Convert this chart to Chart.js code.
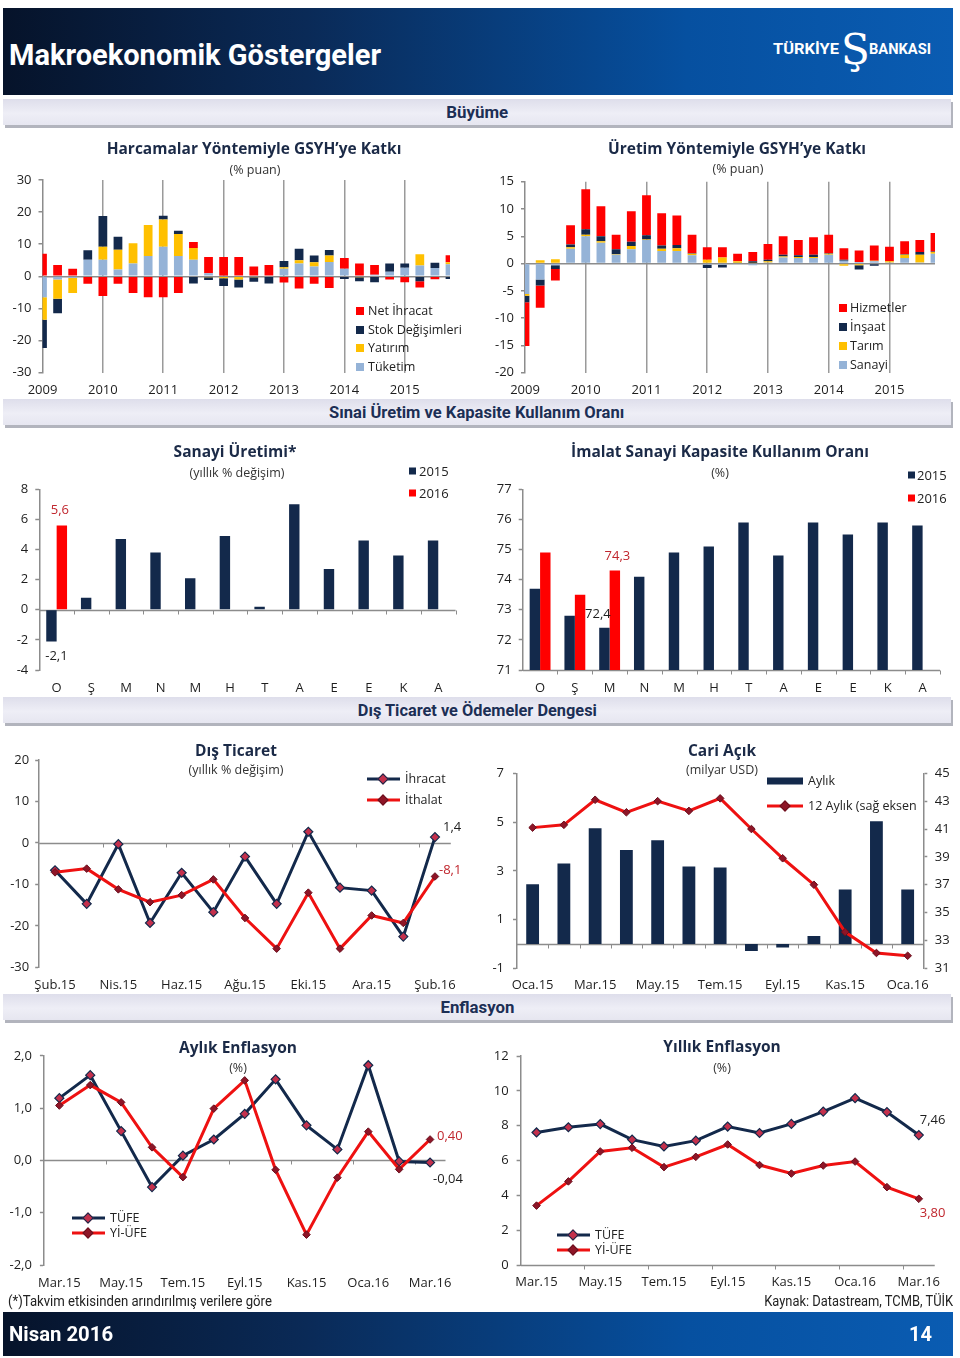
<!DOCTYPE html>
<html lang="tr">
<head>
<meta charset="utf-8">
<title>Makroekonomik Göstergeler</title>
<script src="https://cdn.jsdelivr.net/npm/chart.js@4.4.1/dist/chart.umd.min.js"></script>
<style>
html,body{margin:0;padding:0;background:#fff}
body{width:960px;height:1358px;position:relative;overflow:hidden;font-family:'Open Sans','Noto Sans',sans-serif;color:#1e1e1e}
canvas{position:absolute}
.banner{position:absolute;left:3px;width:950px;background:linear-gradient(90deg,#06132a 0%,#0a2a57 32%,#0650a0 72%,#0a5cb2 100%);color:#fff;font-family:'Roboto','Liberation Sans',sans-serif;font-weight:bold}
.sec{position:absolute;left:3px;width:948px;height:26px;line-height:26px;background:linear-gradient(#dedeeb,#eeeef6 55%,#e6e6f0);box-shadow:2px 3px 0 #b2b4bd;text-align:center;font-family:'Roboto','Liberation Sans',sans-serif;font-weight:bold;font-size:17px;color:#1c2f55}
.sec span{display:inline-block;transform-origin:center center}
.t{position:absolute;transform:translate(-50%,-50%);white-space:nowrap;font-weight:bold;font-size:15.5px;color:#1b2a47}
.s{position:absolute;transform:translate(-50%,-50%);white-space:nowrap;font-size:12.5px;color:#333}
.lg{position:absolute;transform:translateY(-50%);white-space:nowrap;font-size:12.5px;color:#222;line-height:1}
.bx{position:absolute;width:8px;height:8px;transform:translateY(-50%)}
.ln{position:absolute;height:3px;transform:translateY(-50%)}
.dm{position:absolute;width:6px;height:6px;transform:translate(-50%,-50%) rotate(45deg)}
.note{position:absolute;top:1301px;font-family:'Roboto','Liberation Sans',sans-serif;font-size:14px;color:#222;white-space:nowrap;line-height:1}
.fit{white-space:nowrap;line-height:1}
</style>
</head>
<body>
<!-- header -->
<div class="banner" style="top:8px;height:87px">
  <div class="fit" data-w="372" data-t="translateY(-50%)" style="position:absolute;left:6px;top:47px;font-size:29px;transform-origin:left center">Makroekonomik Göstergeler</div>
  <div class="fit" data-w="66" data-t="translateY(-50%)" style="position:absolute;left:770px;top:41px;font-size:14px;transform-origin:left center">TÜRKİYE</div>
  <div style="position:absolute;left:838px;top:41px;transform:translateY(-50%);font-family:'DejaVu Serif',serif;font-size:42px;font-weight:normal;white-space:nowrap">Ş</div>
  <div class="fit" data-w="62" data-t="translateY(-50%)" style="position:absolute;left:866px;top:41px;font-size:14px;transform-origin:left center">BANKASI</div>
</div>
<div class="sec" style="top:99px"><span class="fit" data-w="62" style="line-height:26px">Büyüme</span></div>
<div class="sec" style="top:399px"><span class="fit" data-w="295" style="line-height:26px">Sınai Üretim ve Kapasite Kullanım Oranı</span></div>
<div class="sec" style="top:697px"><span class="fit" data-w="239" style="line-height:26px">Dış Ticaret ve Ödemeler Dengesi</span></div>
<div class="sec" style="top:994px"><span class="fit" data-w="74" style="line-height:26px">Enflasyon</span></div>

<canvas id="c1" width="470" height="265" style="left:0;top:140px"></canvas>
<canvas id="c2" width="470" height="265" style="left:480px;top:140px"></canvas>
<canvas id="c3" width="470" height="260" style="left:0;top:440px"></canvas>
<canvas id="c4" width="470" height="260" style="left:480px;top:440px"></canvas>
<canvas id="c5" width="470" height="260" style="left:0;top:740px"></canvas>
<canvas id="c6" width="470" height="260" style="left:480px;top:740px"></canvas>
<canvas id="c7" width="470" height="260" style="left:0;top:1040px"></canvas>
<canvas id="c8" width="470" height="260" style="left:480px;top:1040px"></canvas>

<!-- titles -->
<div class="t" style="left:254px;top:148px">Harcamalar Yöntemiyle GSYH’ye Katkı</div>
<div class="s" style="left:255px;top:169px">(% puan)</div>
<div class="t" style="left:737px;top:148px">Üretim Yöntemiyle GSYH’ye Katkı</div>
<div class="s" style="left:738px;top:168px">(% puan)</div>
<div class="t" style="left:235px;top:451px">Sanayi Üretimi*</div>
<div class="s" style="left:237px;top:472px">(yıllık  % değişim)</div>
<div class="t" style="left:720px;top:451px">İmalat Sanayi Kapasite Kullanım  Oranı</div>
<div class="s" style="left:720px;top:472px">(%)</div>
<div class="t" style="left:236px;top:750px">Dış Ticaret</div>
<div class="s" style="left:236px;top:769px">(yıllık  % değişim)</div>
<div class="t" style="left:722px;top:750px">Cari Açık</div>
<div class="s" style="left:722px;top:769px">(milyar  USD)</div>
<div class="t" style="left:238px;top:1047px">Aylık Enflasyon</div>
<div class="s" style="left:238px;top:1067px">(%)</div>
<div class="t" style="left:722px;top:1046px">Yıllık Enflasyon</div>
<div class="s" style="left:722px;top:1067px">(%)</div>

<!-- legends -->
<div class="bx" style="left:356px;top:311px;background:#ff0000"></div><div class="lg" style="left:368px;top:311px">Net İhracat</div>
<div class="bx" style="left:356px;top:330px;background:#13294b"></div><div class="lg" style="left:368px;top:330px">Stok Değişimleri</div>
<div class="bx" style="left:356px;top:348px;background:#ffc000"></div><div class="lg" style="left:368px;top:348px">Yatırım</div>
<div class="bx" style="left:356px;top:367px;background:#95b3d7"></div><div class="lg" style="left:368px;top:367px">Tüketim</div>

<div class="bx" style="left:839px;top:308px;background:#ff0000"></div><div class="lg" style="left:850px;top:308px">Hizmetler</div>
<div class="bx" style="left:839px;top:327px;background:#13294b"></div><div class="lg" style="left:850px;top:327px">İnşaat</div>
<div class="bx" style="left:839px;top:346px;background:#ffc000"></div><div class="lg" style="left:850px;top:346px">Tarım</div>
<div class="bx" style="left:839px;top:365px;background:#95b3d7"></div><div class="lg" style="left:850px;top:365px">Sanayi</div>

<div class="bx" style="left:409px;top:471px;width:7px;height:7px;background:#13294b"></div><div class="lg" style="left:419px;top:471px;font-size:13px">2015</div>
<div class="bx" style="left:409px;top:493px;width:7px;height:7px;background:#ff0000"></div><div class="lg" style="left:419px;top:493px;font-size:13px">2016</div>
<div class="bx" style="left:908px;top:475px;width:7px;height:7px;background:#13294b"></div><div class="lg" style="left:917px;top:475px;font-size:13px">2015</div>
<div class="bx" style="left:908px;top:498px;width:7px;height:7px;background:#ff0000"></div><div class="lg" style="left:917px;top:498px;font-size:13px">2016</div>

<div class="ln" style="left:367px;top:779px;width:33px;background:#13294b"></div><div class="dm" style="left:383px;top:779px;background:#c4304c;border:1px solid #13294b"></div><div class="lg" style="left:405px;top:779px">İhracat</div>
<div class="ln" style="left:367px;top:800px;width:33px;background:#ee1111"></div><div class="dm" style="left:383px;top:800px;background:#8e1527;border:1px solid #6a0f1d"></div><div class="lg" style="left:405px;top:800px">İthalat</div>

<div class="ln" style="left:767px;top:781px;width:36px;height:7px;background:#13294b"></div><div class="lg" style="left:808px;top:781px">Aylık</div>
<div class="ln" style="left:767px;top:806px;width:36px;background:#ee1111"></div><div class="dm" style="left:785px;top:806px;background:#8e1527;border:1px solid #6a0f1d"></div><div class="lg" style="left:808px;top:806px">12 Aylık (sağ eksen</div>

<div class="ln" style="left:72px;top:1218px;width:33px;background:#13294b"></div><div class="dm" style="left:88px;top:1218px;background:#c4304c;border:1px solid #13294b"></div><div class="lg" style="left:110px;top:1218px">TÜFE</div>
<div class="ln" style="left:72px;top:1233px;width:33px;background:#ee1111"></div><div class="dm" style="left:88px;top:1233px;background:#8e1527;border:1px solid #6a0f1d"></div><div class="lg" style="left:110px;top:1233px">Yİ-ÜFE</div>

<div class="ln" style="left:557px;top:1235px;width:33px;background:#13294b"></div><div class="dm" style="left:573px;top:1235px;background:#c4304c;border:1px solid #13294b"></div><div class="lg" style="left:595px;top:1235px">TÜFE</div>
<div class="ln" style="left:557px;top:1250px;width:33px;background:#ee1111"></div><div class="dm" style="left:573px;top:1250px;background:#8e1527;border:1px solid #6a0f1d"></div><div class="lg" style="left:595px;top:1250px">Yİ-ÜFE</div>

<div class="note fit" data-w="264" data-t="translateY(-50%)" style="left:8px;transform-origin:left center;font-weight:normal">(*)Takvim etkisinden arındırılmış verilere göre</div>
<div class="note fit" data-w="189" data-t="translateY(-50%)" style="right:7px;transform-origin:right center">Kaynak: Datastream, TCMB, TÜİK</div>

<div class="banner" style="top:1312px;height:44px">
  <div class="fit" data-w="104" data-t="translateY(-50%)" style="position:absolute;left:6px;top:22px;font-size:21px;transform-origin:left center">Nisan 2016</div>
  <div class="fit" data-w="23" data-t="translateY(-50%)" style="position:absolute;right:21px;top:22px;font-size:21px;transform-origin:right center">14</div>
</div>

<script>
// fit condensed texts to the widths seen in the reference
document.querySelectorAll('.fit').forEach(el => {
  const base = el.dataset.t || '';
  el.style.transform = base;
  const w = el.getBoundingClientRect().width;
  const k = parseFloat(el.dataset.w) / w;
  el.style.transform = base + ' scaleX(' + k.toFixed(3) + ')';
});

// ================= DATA =================
const ceyrekler = ['2009-Ç1','2009-Ç2','2009-Ç3','2009-Ç4','2010-Ç1','2010-Ç2','2010-Ç3','2010-Ç4',
  '2011-Ç1','2011-Ç2','2011-Ç3','2011-Ç4','2012-Ç1','2012-Ç2','2012-Ç3','2012-Ç4',
  '2013-Ç1','2013-Ç2','2013-Ç3','2013-Ç4','2014-Ç1','2014-Ç2','2014-Ç3','2014-Ç4',
  '2015-Ç1','2015-Ç2','2015-Ç3','2015-Ç4'];
const yilEtiketleri = ['2009','2010','2011','2012','2013','2014','2015'];

// Harcamalar yöntemiyle GSYH'ye katkı (% puan)
const harcamaTuketim    = [-6.5,-1.0,-0.5,5.2, 5.2,2.1,4.0,6.3, 9.2,6.3,5.2,1.0, 0.2,0.0,0.3,0.0, 2.4,4.0,3.1,4.5, 2.4,0.3,0.5,1.4, 2.7,3.4,2.6,3.8];
const harcamaYatirim    = [-7.0,-6.0,-4.7,0.0, 4.0,6.2,6.3,9.7, 8.5,6.9,3.6,-0.3, -0.6,-1.0,-0.3,0.0, 0.4,1.0,1.3,2.0, 0.0,-0.3,0.0,0.0, 0.0,3.5,0.0,0.6];
const harcamaStok       = [-8.8,-4.5,0.0,2.9, 9.6,4.0,0.0,0.0, 1.2,1.0,-2.2,-0.8, -2.4,-2.5,-1.4,-2.2, 2.0,3.6,2.1,1.7, -0.8,-1.2,-1.8,2.6, 1.3,-1.5,1.6,-0.8];
const harcamaNetIhracat = [7.0,3.5,2.4,-2.3, -6.1,-2.3,-5.2,-6.5, -6.5,-5.2,1.9,5.0, 5.8,6.0,2.8,3.5, -1.9,-3.8,-2.3,-3.6, 3.3,3.7,3.0,-1.0, -1.8,-2.0,-0.9,2.2];

// Üretim yöntemiyle GSYH'ye katkı (% puan)
const uretimSanayi    = [-5.6,-2.9,-0.3,2.7, 5.0,3.8,1.6,2.6, 4.3,2.3,2.3,1.5, -0.2,-0.2,0.1,-0.3, 0.2,1.1,1.0,1.0, 1.6,0.5,0.3,0.4, 0.2,1.0,0.2,1.8];
const uretimTarim     = [-0.3,0.6,0.8,0.3, 0.3,0.3,0.1,0.6, 0.1,0.4,0.5,0.3, 0.7,1.1,0.3,0.1, 0.2,0.2,0.2,0.2, 0.2,-0.4,-0.3,0.1, 0.2,0.6,1.4,0.3];
const uretimInsaat    = [-1.2,-1.1,-0.7,0.5, 1.0,0.9,0.9,0.8, 0.8,0.6,0.6,0.1, -0.6,-0.5,0.0,0.3, 0.3,0.3,0.3,0.4, 0.1,0.2,-0.8,-0.4, 0.0,0.1,0.5,0.1];
const uretimHizmetler = [-8.0,-4.1,-2.1,3.5, 7.3,5.5,2.7,5.6, 7.3,5.9,5.4,3.4, 2.3,1.9,1.4,1.7, 2.9,3.4,2.8,3.2, 3.4,2.1,2.1,2.8, 2.7,2.4,2.2,3.4];

// Sanayi üretimi ve kapasite kullanımı
const ayHarfleri = ['O','Ş','M','N','M','H','T','A','E','E','K','A'];
const sanayi2015 = [-2.1,0.8,4.7,3.8,2.1,4.9,0.2,7.0,2.7,4.6,3.6,4.6];
const sanayi2016 = [5.6,null,null,null,null,null,null,null,null,null,null,null];
const kapasite2015 = [73.7,72.8,72.4,74.1,74.9,75.1,75.9,74.8,75.9,75.5,75.9,75.8];
const kapasite2016 = [74.9,73.5,74.3,null,null,null,null,null,null,null,null,null];

// Dış ticaret (yıllık % değişim)
const disTicaretAylar = ['Şub.15','Mar.15','Nis.15','May.15','Haz.15','Tem.15','Ağu.15','Eyl.15','Eki.15','Kas.15','Ara.15','Oca.16','Şub.16'];
const ihracat = [-6.6,-14.7,-0.3,-19.3,-7.2,-16.7,-3.3,-14.7,2.7,-10.8,-11.5,-22.6,1.4];
const ithalat = [-7.1,-6.2,-11.2,-14.3,-12.6,-8.8,-18.1,-25.5,-12.0,-25.5,-17.5,-19.3,-8.1];

// Cari açık (milyar USD)
const cariAylar = ['Oca.15','Şub.15','Mar.15','Nis.15','May.15','Haz.15','Tem.15','Ağu.15','Eyl.15','Eki.15','Kas.15','Ara.15','Oca.16'];
const cariAylik = [2.45,3.3,4.75,3.85,4.25,3.18,3.14,-0.29,-0.15,0.33,2.23,5.03,2.23];
const cari12Aylik = [41.1,41.3,43.1,42.2,43.0,42.3,43.2,41.0,38.9,37.0,33.6,32.1,31.9];

// Enflasyon
const enfAylar = ['Mar.15','Nis.15','May.15','Haz.15','Tem.15','Ağu.15','Eyl.15','Eki.15','Kas.15','Ara.15','Oca.16','Şub.16','Mar.16'];
const aylikTufe  = [1.19,1.63,0.56,-0.51,0.09,0.40,0.89,1.55,0.67,0.21,1.82,-0.02,-0.04];
const aylikYiUfe = [1.05,1.44,1.11,0.25,-0.32,0.99,1.53,-0.18,-1.42,-0.33,0.55,-0.17,0.40];
const yillikTufe  = [7.61,7.91,8.09,7.20,6.81,7.14,7.95,7.58,8.10,8.81,9.58,8.78,7.46];
const yillikYiUfe = [3.41,4.80,6.52,6.73,5.62,6.21,6.92,5.74,5.25,5.71,5.94,4.47,3.80];

// ================= STYLE =================
const C = {red:'#ff0000', navy:'#13294b', yellow:'#ffc000', lblue:'#95b3d7', grid:'#8c8c8c',
           crimson:'#c4304c', dred:'#8e1527', dredB:'#6a0f1d', line:'#ee1111', txt:'#1e1e1e'};
const fmt = (v, d) => v.toFixed(d).replace('.', ',');

Chart.defaults.font.family = "'Open Sans','Noto Sans','DejaVu Sans',sans-serif";
Chart.defaults.font.size = 13;
Chart.defaults.color = C.txt;
Chart.defaults.animation = false;
Chart.defaults.plugins.legend.display = false;
Chart.defaults.plugins.tooltip.enabled = false;

// decorations: reference lines with boundary ticks, and value labels
const decor = {};
Chart.register({
  id: 'decor',
  beforeDatasetsDraw(chart) {
    const d = decor[chart.canvas.id]; if (!d || !d.lines) return;
    const ctx = chart.ctx, a = chart.chartArea, xs = chart.scales.x;
    d.lines.forEach(l => {
      const py = Math.round(chart.scales[l.scale || 'y'].getPixelForValue(l.value)) + 0.5;
      ctx.save();
      ctx.strokeStyle = C.grid; ctx.lineWidth = 1.5;
      ctx.beginPath(); ctx.moveTo(a.left, py); ctx.lineTo(a.right, py); ctx.stroke();
      if (l.every) {
        const n = xs.ticks.length, cw = (a.right - a.left) / n;
        ctx.lineWidth = 1; ctx.beginPath();
        for (let k = l.start; k <= (l.end ?? n); k += l.every) {
          const px = Math.round(a.left + k * cw) + 0.5;
          ctx.moveTo(px, py); ctx.lineTo(px, py + 4);
        }
        ctx.stroke();
      }
      ctx.restore();
    });
  },
  afterDatasetsDraw(chart) {
    const d = decor[chart.canvas.id]; if (!d || !d.labels) return;
    const ctx = chart.ctx;
    d.labels.forEach(it => {
      const el = chart.getDatasetMeta(it.ds).data[it.i];
      ctx.save();
      ctx.font = "13px 'Open Sans','Noto Sans',sans-serif";
      ctx.fillStyle = it.color; ctx.textAlign = it.align || 'center'; ctx.textBaseline = 'middle';
      ctx.fillText(it.text, el.x + it.dx, el.y + it.dy);
      ctx.restore();
    });
  }
});

function xAxis(H, a, extra) {
  return Object.assign({
    grid: {display: false, drawTicks: false}, border: {display: false},
    ticks: {autoSkip: false, maxRotation: 0, padding: 10},
    afterFit: s => { s.height = H - a.b; }
  }, extra);
}
function yAxis(a, extra) {
  return Object.assign({
    grid: {color: 'transparent', tickLength: 4, tickColor: C.grid, tickWidth: 1.5},
    border: {color: C.grid, width: 1.5},
    ticks: {padding: 7},
    afterFit: s => { s.width = a.l; }
  }, extra);
}
const lineNavy = {borderColor: C.navy, borderWidth: 3, pointStyle: 'rectRot', pointRadius: 4.5,
  pointBackgroundColor: C.crimson, pointBorderColor: C.navy, pointBorderWidth: 1.2, tension: 0};
const lineRed = {borderColor: C.line, borderWidth: 3, pointStyle: 'rectRot', pointRadius: 3.8,
  pointBackgroundColor: C.dred, pointBorderColor: C.dredB, pointBorderWidth: 1, tension: 0};

// ---------- Chart 1: Harcamalar ----------
(function(){
  const W = 470, H = 265, a = {l: 42.5, t: 40, r: 450, b: 232.7};
  new Chart(document.getElementById('c1'), {
    type: 'bar',
    data: {labels: ceyrekler, datasets: [
      {label: 'Tüketim', data: harcamaTuketim, backgroundColor: C.lblue},
      {label: 'Yatırım', data: harcamaYatirim, backgroundColor: C.yellow},
      {label: 'Stok Değişimleri', data: harcamaStok, backgroundColor: C.navy},
      {label: 'Net İhracat', data: harcamaNetIhracat, backgroundColor: C.red}
    ]},
    options: {
      responsive: false, layout: {padding: {top: a.t, right: W - a.r}},
      datasets: {bar: {barPercentage: 0.58, categoryPercentage: 1}},
      scales: {
        x: xAxis(H, a, {stacked: true, offset: false,
          grid: {display: true, offset: false, drawTicks: false, lineWidth: 1.5,
                 color: c => (c.index % 4 === 0 && c.index > 0) ? '#9a9a9a' : 'transparent'},
          ticks: {autoSkip: false, maxRotation: 0, padding: 9.5, callback: (v, i) => i % 4 === 0 ? yilEtiketleri[i / 4] : ''}}),
        y: yAxis(a, {stacked: true, min: -30, max: 30,
          grid: {color: c => c.tick.value === 0 ? C.grid : 'transparent', lineWidth: 1.5, tickLength: 4, tickColor: C.grid, tickWidth: 1.5},
          ticks: {stepSize: 10, padding: 7}})
      }
    }
  });
})();

// ---------- Chart 2: Üretim ----------
(function(){
  const W = 470, H = 265, a = {l: 45, t: 41.7, r: 455, b: 232.7};
  new Chart(document.getElementById('c2'), {
    type: 'bar',
    data: {labels: ceyrekler, datasets: [
      {label: 'Sanayi', data: uretimSanayi, backgroundColor: C.lblue},
      {label: 'Tarım', data: uretimTarim, backgroundColor: C.yellow},
      {label: 'İnşaat', data: uretimInsaat, backgroundColor: C.navy},
      {label: 'Hizmetler', data: uretimHizmetler, backgroundColor: C.red}
    ]},
    options: {
      responsive: false, layout: {padding: {top: a.t, right: W - a.r}},
      datasets: {bar: {barPercentage: 0.58, categoryPercentage: 1}},
      scales: {
        x: xAxis(H, a, {stacked: true, offset: false,
          grid: {display: true, offset: false, drawTicks: false, lineWidth: 1.5,
                 color: c => (c.index % 4 === 0 && c.index > 0) ? '#9a9a9a' : 'transparent'},
          ticks: {autoSkip: false, maxRotation: 0, padding: 9.5, callback: (v, i) => i % 4 === 0 ? yilEtiketleri[i / 4] : ''}}),
        y: yAxis(a, {stacked: true, min: -20, max: 15,
          grid: {color: c => c.tick.value === 0 ? C.grid : 'transparent', lineWidth: 1.5, tickLength: 4, tickColor: C.grid, tickWidth: 1.5},
          ticks: {stepSize: 5, padding: 7}})
      }
    }
  });
})();

// ---------- Chart 3: Sanayi Üretimi ----------
(function(){
  const W = 470, H = 260, a = {l: 39.3, t: 49.3, r: 455.6, b: 230};
  decor.c3 = {lines: [{value: 0, every: 1, start: 1}],
    labels: [{ds: 1, i: 0, text: fmt(sanayi2016[0], 1), color: '#c0262d', dx: -2, dy: -15},
             {ds: 0, i: 0, text: fmt(sanayi2015[0], 1), color: C.txt, dx: 5, dy: 15}]};
  new Chart(document.getElementById('c3'), {
    type: 'bar',
    data: {labels: ayHarfleri, datasets: [
      {label: '2015', data: sanayi2015, backgroundColor: C.navy},
      {label: '2016', data: sanayi2016, backgroundColor: C.red}
    ]},
    options: {
      responsive: false, layout: {padding: {top: a.t, right: W - a.r}},
      datasets: {bar: {barPercentage: 1, categoryPercentage: 0.6}},
      scales: {
        x: xAxis(H, a, {ticks: {autoSkip: false, maxRotation: 0, padding: 10.2}}),
        y: yAxis(a, {min: -4, max: 8, ticks: {stepSize: 2, padding: 7}})
      }
    }
  });
})();

// ---------- Chart 4: Kapasite ----------
(function(){
  const W = 470, H = 260, a = {l: 42.7, t: 49.3, r: 460, b: 230};
  decor.c4 = {lines: [{value: 71, every: 1, start: 1}],
    labels: [{ds: 0, i: 2, text: fmt(kapasite2015[2], 1), color: C.txt, dx: -6.5, dy: -14},
             {ds: 1, i: 2, text: fmt(kapasite2016[2], 1), color: '#c0262d', dx: 2.5, dy: -14.5}]};
  new Chart(document.getElementById('c4'), {
    type: 'bar',
    data: {labels: ayHarfleri, datasets: [
      {label: '2015', data: kapasite2015, backgroundColor: C.navy},
      {label: '2016', data: kapasite2016, backgroundColor: C.red}
    ]},
    options: {
      responsive: false, layout: {padding: {top: a.t, right: W - a.r}},
      datasets: {bar: {barPercentage: 1, categoryPercentage: 0.6}},
      scales: {
        x: xAxis(H, a, {ticks: {autoSkip: false, maxRotation: 0, padding: 10.2}}),
        y: yAxis(a, {min: 71, max: 77, ticks: {stepSize: 1, padding: 7}})
      }
    }
  });
})();

// ---------- Chart 5: Dış Ticaret ----------
(function(){
  const W = 470, H = 260, a = {l: 39.2, t: 20, r: 450.8, b: 227.3};
  decor.c5 = {lines: [{value: 0, every: 2, start: 2, end: 12}],
    labels: [{ds: 0, i: 12, text: fmt(ihracat[12], 1), color: C.txt, dx: 8, dy: -10, align: 'left'},
             {ds: 1, i: 12, text: fmt(ithalat[12], 1), color: '#c0262d', dx: 4, dy: -6, align: 'left'}]};
  new Chart(document.getElementById('c5'), {
    type: 'line',
    data: {labels: disTicaretAylar, datasets: [
      Object.assign({label: 'İhracat', data: ihracat, order: 1}, lineNavy),
      Object.assign({label: 'İthalat', data: ithalat, order: 0}, lineRed)
    ]},
    options: {
      responsive: false, layout: {padding: {top: a.t, right: W - a.r}},
      scales: {
        x: xAxis(H, a, {offset: true, ticks: {autoSkip: false, maxRotation: 0, padding: 9.9,
          callback: (v, i) => i % 2 === 0 ? disTicaretAylar[i] : ''}}),
        y: yAxis(a, {min: -30, max: 20, ticks: {stepSize: 10, padding: 6}})
      }
    }
  });
})();

// ---------- Chart 6: Cari Açık ----------
(function(){
  const W = 470, H = 260, a = {l: 37, t: 33.3, r: 443.3, b: 228.3};
  decor.c6 = {lines: [{value: 0, every: 1, start: 1, end: 12}]};
  new Chart(document.getElementById('c6'), {
    type: 'bar',
    data: {labels: cariAylar, datasets: [
      Object.assign({type: 'line', label: '12 Aylık (sağ eksen', data: cari12Aylik, yAxisID: 'y2', order: 0}, lineRed),
      {type: 'bar', label: 'Aylık', data: cariAylik, yAxisID: 'y', order: 1, backgroundColor: C.navy,
       barPercentage: 0.41, categoryPercentage: 1}
    ]},
    options: {
      responsive: false, layout: {padding: {top: a.t, right: 0}},
      scales: {
        x: xAxis(H, a, {offset: true, ticks: {autoSkip: false, maxRotation: 0, padding: 8.9,
          callback: (v, i) => i % 2 === 0 ? cariAylar[i] : ''}}),
        y: yAxis(a, {min: -1, max: 7, ticks: {stepSize: 2, padding: 9}}),
        y2: {position: 'right', min: 31, max: 45, ticks: {stepSize: 2, padding: 7.5},
          grid: {drawOnChartArea: false, tickLength: 4, tickColor: C.grid, tickWidth: 1.5},
          border: {color: C.grid, width: 1.5},
          afterFit: s => { s.width = W - a.r; }}
      }
    }
  });
})();

// ---------- Chart 7: Aylık Enflasyon ----------
(function(){
  const W = 470, H = 260, a = {l: 43.9, t: 10.7, r: 445.5, b: 225};
  decor.c7 = {lines: [{value: 0, every: 2, start: 2, end: 12}],
    labels: [{ds: 1, i: 12, text: fmt(aylikYiUfe[12], 2), color: '#c0262d', dx: 7, dy: -3, align: 'left'},
             {ds: 0, i: 12, text: fmt(aylikTufe[12], 2), color: C.txt, dx: 3, dy: 17, align: 'left'}]};
  new Chart(document.getElementById('c7'), {
    type: 'line',
    data: {labels: enfAylar, datasets: [
      Object.assign({label: 'TÜFE', data: aylikTufe, order: 1}, lineNavy),
      Object.assign({label: 'Yİ-ÜFE', data: aylikYiUfe, order: 0}, lineRed)
    ]},
    options: {
      responsive: false, layout: {padding: {top: a.t, right: W - a.r}},
      scales: {
        x: xAxis(H, a, {offset: true, ticks: {autoSkip: false, maxRotation: 0, padding: 10.5,
          callback: (v, i) => i % 2 === 0 ? enfAylar[i] : ''}}),
        y: yAxis(a, {min: -2, max: 2, ticks: {stepSize: 1, padding: 8, callback: v => fmt(v, 1)}})
      }
    }
  });
})();

// ---------- Chart 8: Yıllık Enflasyon ----------
(function(){
  const W = 470, H = 260, a = {l: 40.6, t: 16, r: 458.4, b: 225};
  decor.c8 = {lines: [{value: 0, every: 2, start: 2, end: 12}],
    labels: [{ds: 0, i: 12, text: fmt(yillikTufe[12], 2), color: C.txt, dx: 1, dy: -15, align: 'left'},
             {ds: 1, i: 12, text: fmt(yillikYiUfe[12], 2), color: '#c0262d', dx: 1, dy: 14, align: 'left'}]};
  new Chart(document.getElementById('c8'), {
    type: 'line',
    data: {labels: enfAylar, datasets: [
      Object.assign({label: 'TÜFE', data: yillikTufe, order: 1}, lineNavy),
      Object.assign({label: 'Yİ-ÜFE', data: yillikYiUfe, order: 0}, lineRed)
    ]},
    options: {
      responsive: false, layout: {padding: {top: a.t, right: W - a.r}},
      scales: {
        x: xAxis(H, a, {offset: true, ticks: {autoSkip: false, maxRotation: 0, padding: 9.5,
          callback: (v, i) => i % 2 === 0 ? enfAylar[i] : ''}}),
        y: yAxis(a, {min: 0, max: 12, ticks: {stepSize: 2, padding: 8}})
      }
    }
  });
})();
</script>
</body>
</html>
